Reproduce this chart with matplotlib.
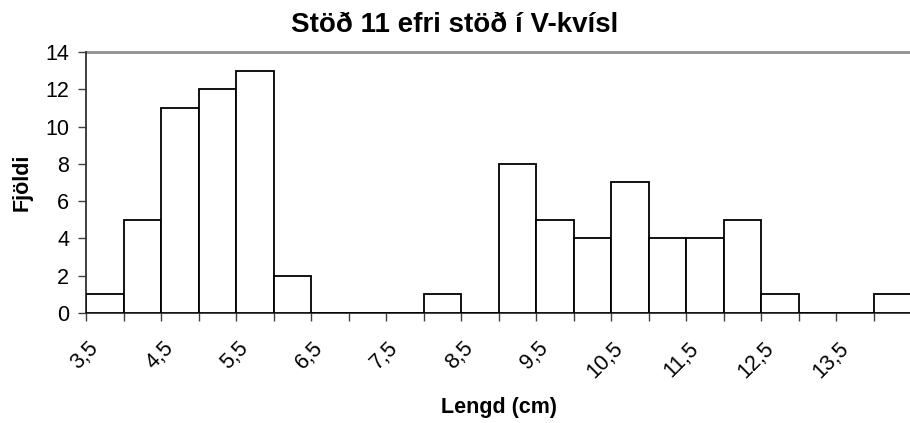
import matplotlib
matplotlib.use("Agg")
import matplotlib.pyplot as plt
import numpy as np

categories = ["3,5", "4", "4,5", "5", "5,5", "6", "6,5", "7", "7,5", "8", "8,5",
              "9", "9,5", "10", "10,5", "11", "11,5", "12", "12,5", "13", "13,5", "14"]
counts = [1, 5, 11, 12, 13, 2, 0, 0, 0, 1, 0, 8, 5, 4, 7, 4, 4, 5, 1, 0, 0, 1]
title = "Stöð 11 efri stöð í V-kvísl"
xlabel = "Lengd (cm)"
ylabel = "Fjöldi"

plt.rcParams['font.family'] = ['Liberation Sans', 'DejaVu Sans']

fig = plt.figure(figsize=(9.10, 4.23), dpi=100)
ax = fig.add_axes([86/910, 110/423, 825/910, 261/423])

x = np.arange(len(categories))
ax.bar(x, counts, width=1.0, facecolor='white', edgecolor='black', linewidth=1.3, zorder=3)

ax.set_xlim(-0.5, len(categories) - 0.5)
ax.set_ylim(0, 14)
ax.set_yticks(np.arange(0, 15, 2))
ax.axhline(14, color='#909090', linewidth=2, zorder=2, clip_on=False)

# labels drawn slightly left of category centre, as in the reference
ax.set_xticks(x[::2] - 0.45)
ax.set_xticklabels(categories[::2], rotation=45, ha='right', va='top',
                   rotation_mode='anchor', fontsize=15.5)
ax.set_xticks(np.arange(-0.5, len(categories), 1.0), minor=True)
ax.tick_params(axis='x', which='major', length=0, pad=18)
ax.tick_params(axis='x', which='minor', length=6, width=1, color='#404040', direction='out')
ax.tick_params(axis='y', length=6, width=1, color='#404040', labelsize=15.5, pad=6)

for s in ['top', 'right']:
    ax.spines[s].set_visible(False)
ax.spines['left'].set_color('#303030')
ax.spines['left'].set_linewidth(1.3)
ax.spines['bottom'].set_color('#303030')
ax.spines['bottom'].set_linewidth(1.3)

fig.text(455/910, 1 - 32/423, title, ha='center', va='baseline', fontsize=20, fontweight='bold')
fig.text(499/910, 1 - 413/423, xlabel, ha='center', va='baseline', fontsize=15.5, fontweight='bold')
fig.text(22/910, 1 - 182/423, ylabel, ha='center', va='center', fontsize=15.5,
         fontweight='bold', rotation=90)

fig.savefig("out.png", dpi=100)
